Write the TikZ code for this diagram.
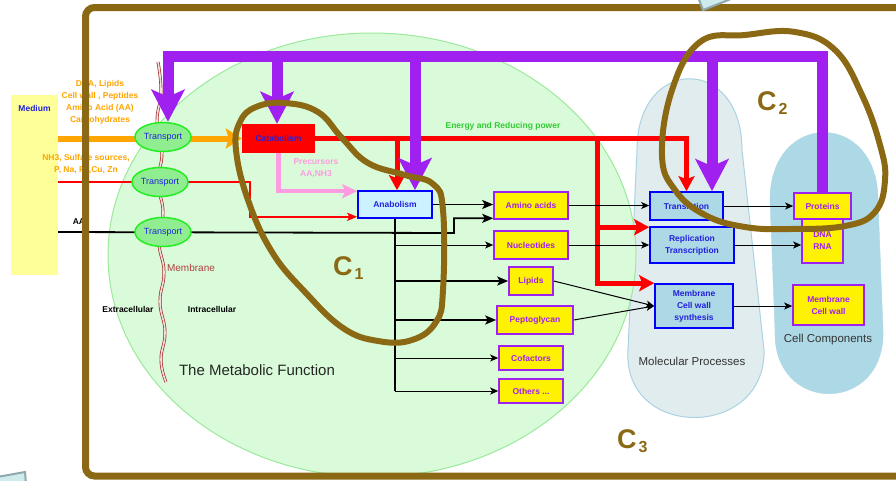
\documentclass[tikz,border=0pt]{standalone}
\usepackage{fontspec}
\setmainfont{Liberation Sans}
\usetikzlibrary{arrows.meta,positioning,shapes.geometric}
\definecolor{frame}{HTML}{8B6914}
\definecolor{vio}{HTML}{A020F0}
\definecolor{orng}{HTML}{FFA500}
\definecolor{pinkish}{HTML}{FF9BE0}
\definecolor{cellfill}{HTML}{D9FBD9}
\definecolor{celledge}{HTML}{9BEA9B}
\definecolor{trfill}{HTML}{90EE90}
\definecolor{tredge}{HTML}{22EE22}
\definecolor{medfill}{HTML}{FFFF99}
\definecolor{lblue}{HTML}{ADD8E6}
\definecolor{molfill}{HTML}{E1ECEF}
\definecolor{moledge}{HTML}{A9D3E3}
\definecolor{anafill}{HTML}{CCF2FF}
\definecolor{txtblue}{HTML}{2222DD}
\definecolor{energy}{HTML}{33CC33}
\definecolor{memb}{HTML}{A52A2A}
\definecolor{slidefill}{HTML}{CFEBEC}
\definecolor{slideedge}{HTML}{8FA8AD}
\pgfdeclarelayer{back}\pgfdeclarelayer{mid}\pgfdeclarelayer{front}
\pgfsetlayers{back,mid,main,front}
\tikzset{boldlbl/.style={font=\fontsize{8.5}{12}\selectfont\bfseries,align=center,inner sep=0pt},
 transport/.style={ellipse,draw=tredge,fill=trfill,line width=1.5pt,minimum width=56pt,minimum height=29pt,
 inner sep=0pt,text=txtblue,font=\fontsize{9}{11}\selectfont},
 ybox/.style={draw=vio,fill=yellow,line width=1.6pt,boldlbl,text=vio},
 bbox/.style={draw=blue,fill=lblue,line width=1.6pt,boldlbl,text=txtblue},
 purp/.style={draw=vio,line width=11pt},
 purparr/.style={purp,-{Stealth[length=32pt,width=33pt,inset=7pt]}},
 redarr/.style={draw=red,line width=5pt,-{Stealth[length=15pt,width=16pt,inset=3pt]}},
 thinred/.style={draw=red,line width=1.8pt,-{Stealth[length=10pt,width=8pt,inset=2pt]}},
 thickarr/.style={draw=black,line width=1.8pt,-{Stealth[length=11pt,width=9pt,inset=2.5pt]}},
 thinarr/.style={draw=black,line width=1pt,-{Stealth[length=8pt,width=7pt,inset=2pt]}},
 loopline/.style={draw=frame,line width=6pt},
 cname/.style={text=frame,font=\fontsize{27}{27}\selectfont\bfseries,inner sep=0pt,anchor=base west}}
\newcommand\csub[1]{\kern2pt\raisebox{-4pt}{\fontsize{16}{16}\selectfont #1}}

\begin{document}
\begin{tikzpicture}[x=1pt,y=-1pt]
\clip (0,0) rectangle (896,480);
% regions
\begin{pgfonlayer}{back}
\fill[white] (0,0) rectangle (896,480);
\path[draw=moledge,fill=molfill,line width=1pt] (637,150) .. controls (637,55) and (742,55) .. (742,150)
 -- (764,350) .. controls (766,440) and (622,440) .. (628,350) -- cycle;
\path[draw=lblue,fill=lblue] (770,200) .. controls (770,110) and (878,110) .. (878,200)
 -- (883,330) .. controls (886,415) and (772,415) .. (775,330) -- cycle;
\path[draw=celledge,fill=cellfill,line width=1pt] (372,255) ellipse [x radius=264pt,y radius=222pt];
\end{pgfonlayer}

% medium and labels
\node[fill=medfill,minimum width=47pt,minimum height=180pt,inner sep=0pt,
 label={[boldlbl,text=txtblue,anchor=north,yshift=-10pt]north:Medium}] (med) at (34.5,185) {};
\node[boldlbl,text=orng] (inputs) at (100,102) {DNA, Lipids\\Cell wall , Peptides\\Amino Acid (AA)\\Carbohydrates};
\node[boldlbl,text=orng] (ions) at (86,164) {NH3, Sulfate sources,\\P, Na, Fe,Cu, Zn};
\node[boldlbl] (aa) at (79,222) {AA};
\node[boldlbl] (extra) at (128,309) {Extracellular};
\node[boldlbl] (intra) at (212,309) {Intracellular};
\node[text=memb!90!white,font=\fontsize{10}{12}\selectfont,inner sep=0pt] (memlbl) at (191,268) {Membrane};
\node[text=black!85,font=\fontsize{15}{17}\selectfont,inner sep=0pt] (title) at (257,370) {The Metabolic Function};
\node[text=black!80,font=\fontsize{11.5}{13}\selectfont,inner sep=0pt] (molp) at (692,361) {Molecular Processes};
\node[text=black!80,font=\fontsize{11.5}{13}\selectfont,inner sep=0pt] (cellc) at (828,340) {Cell Components};
\node[boldlbl,text=energy] (energy) at (503,126) {Energy and Reducing power};
\node[boldlbl,text=pinkish] (prec) at (316,168) {Precursors\\AA,NH3};

% transport and metabolism
\node[transport] (tr1) at (163,137) {Transport};
\node[transport] (tr2) at (160,182) {Transport};
\node[transport] (tr3) at (163,232) {Transport};
\node[fill=red,boldlbl,text=txtblue,minimum width=73pt,minimum height=29pt] (cata) at (278.5,138.5) {Catabolism};
\node[draw=blue,fill=anafill,line width=1.6pt,boldlbl,text=txtblue,minimum width=74pt,minimum height=27pt] (ana) at (395,204.5) {Anabolism};

% building blocks
\node[ybox,minimum width=74pt,minimum height=27pt] (amino) at (531,205.5) {Amino acids};
\node[ybox,minimum width=74pt,minimum height=28pt] (nucl) at (531,245) {Nucleotides};
\node[ybox,minimum width=44pt,minimum height=28pt] (lipids) at (531,281) {Lipids};
\node[ybox,minimum width=76pt,minimum height=28pt] (pepto) at (535,320) {Peptoglycan};
\node[ybox,minimum width=64pt,minimum height=24pt] (cof) at (531,358) {Cofactors};
\node[ybox,minimum width=64pt,minimum height=24pt] (oth) at (531,391) {Others ...};

% processes and components
\node[bbox,minimum width=73pt,minimum height=28pt] (trans) at (686.5,206) {Translation};
\node[bbox,minimum width=84pt,minimum height=36pt] (rep) at (692,245) {Replication\\Transcription};
\node[bbox,minimum width=78pt,minimum height=44pt] (memsyn) at (694,306) {Membrane\\Cell wall\\synthesis};
\node[ybox,minimum width=41pt,minimum height=44pt] (dna) at (822.5,241) {DNA\\RNA};
\node[ybox,minimum width=57pt,minimum height=26pt] (prot) at (822.5,206) {Proteins};
\node[ybox,minimum width=71pt,minimum height=40pt] (memwall) at (828.5,305) {Membrane\\Cell wall};

\node[cname] (c1) at (333,275) {C\csub{1}};
\node[cname] (c2) at (757,110) {C\csub{2}};
\node[cname] (c3) at (617,448) {C\csub{3}};

% connectors
\begin{pgfonlayer}{mid}
\draw[memb,line width=0.7pt,double=memb!15,double distance=1.6pt] plot[smooth,tension=0.8] coordinates
 {(158,62) (161,92) (157,122) (162,152) (158,182) (163,212) (159,242) (164,272) (160,302) (165,332) (161,360) (166,382)};
\draw[orng,line width=6pt,-{Stealth[length=16pt,width=20pt,inset=3pt]}] (med.east |- cata.west) -- (cata.west);
\coordinate (rbend) at (250,182);
\draw[thinred] (med.east |- tr2) -- (rbend) |- ([yshift=2pt]ana.south west);
\coordinate (abend) at (454,233);
\draw[thickarr] (med.east |- tr3) -- (abend) |- ([yshift=1.5pt]amino.south west);
\draw[pinkish,line width=4.5pt,-{Stealth[length=15pt,width=14pt,inset=3pt]}] (cata.south) |- ([yshift=-1pt]ana.north west);
\draw[redarr] (cata.east) -| (trans.north);
\coordinate (eb1) at (397,138.5);
\coordinate (eb2) at (597,138.5);
\coordinate (rin) at ([yshift=-1pt]rep.north west);
\draw[redarr] (eb1) -- (eb1 |- ana.north);
\draw[redarr] (eb2) |- (memsyn.north west);
\draw[redarr] (rin -| eb2) -- (rin);
\coordinate (p1) at (168,56);
\coordinate (p2) at (277,56);
\coordinate (p3) at (415,56);
\coordinate (p4) at (712,56);
\coordinate (p5) at (822,56);
\draw[purp,line cap=rect] (p1) -- (p5);
\foreach \c/\n in {p1/tr1,p2/cata,p3/ana,p4/trans}
 \draw[purparr] (\c) -- (\c |- \n.north);
\draw[purp] (p5) -- (p5 |- prot.north);
\draw[thickarr] (ana.east) -- (ana.east -| amino.west);
\draw[line width=1.3pt] (ana.south) -- (ana.south |- oth.west);
\foreach \n/\s in {nucl/thinarr,lipids/thickarr,pepto/thickarr,cof/thinarr,oth/thinarr}
 \draw[\s] (ana.south |- \n.west) -- (\n.west);
\draw[thinarr] (amino.east) -- (amino.east -| trans.west);
\draw[thinarr] (nucl.east) -- (nucl.east -| rep.west);
\draw[thinarr] (lipids.east) -- (memsyn.west);
\draw[thinarr] (pepto.east) -- (memsyn.west);
\draw[thinarr] (trans.east) -- (trans.east -| prot.west);
\draw[thinarr] (rep.east) -- (rep.east -| dna.west);
\draw[thinarr] (memsyn.east) -- (memsyn.east -| memwall.west);
\end{pgfonlayer}

% frame and loops
\begin{pgfonlayer}{front}
\draw[loopline] plot[smooth cycle,tension=0.7] coordinates {(236,150) (240,122) (256,107) (285,103)
 (318,112) (342,138) (368,163) (405,175) (433,184) (443,210) (443,290) (436,322) (412,340)
 (378,341) (343,328) (305,292) (272,252) (248,200)};
\draw[loopline] plot[smooth cycle,tension=0.7] coordinates {(700,42) (745,35) (795,32) (835,50)
 (862,95) (880,145) (885,180) (875,212) (845,226) (790,229) (745,227) (705,215) (675,190)
 (662,155) (672,90)};
\draw[frame,line width=7pt,rounded corners=9pt] (85.5,7.5) rectangle (915,476);
\draw[slideedge,fill=slidefill,line width=2pt] (698,-3) -- (703,10) -- (736,-3) -- cycle;
\draw[slideedge,fill=slidefill,line width=2pt] (-3,477) -- (25,472) -- (26,484) -- (-3,484) -- cycle;
\end{pgfonlayer}
\end{tikzpicture}
\end{document}
